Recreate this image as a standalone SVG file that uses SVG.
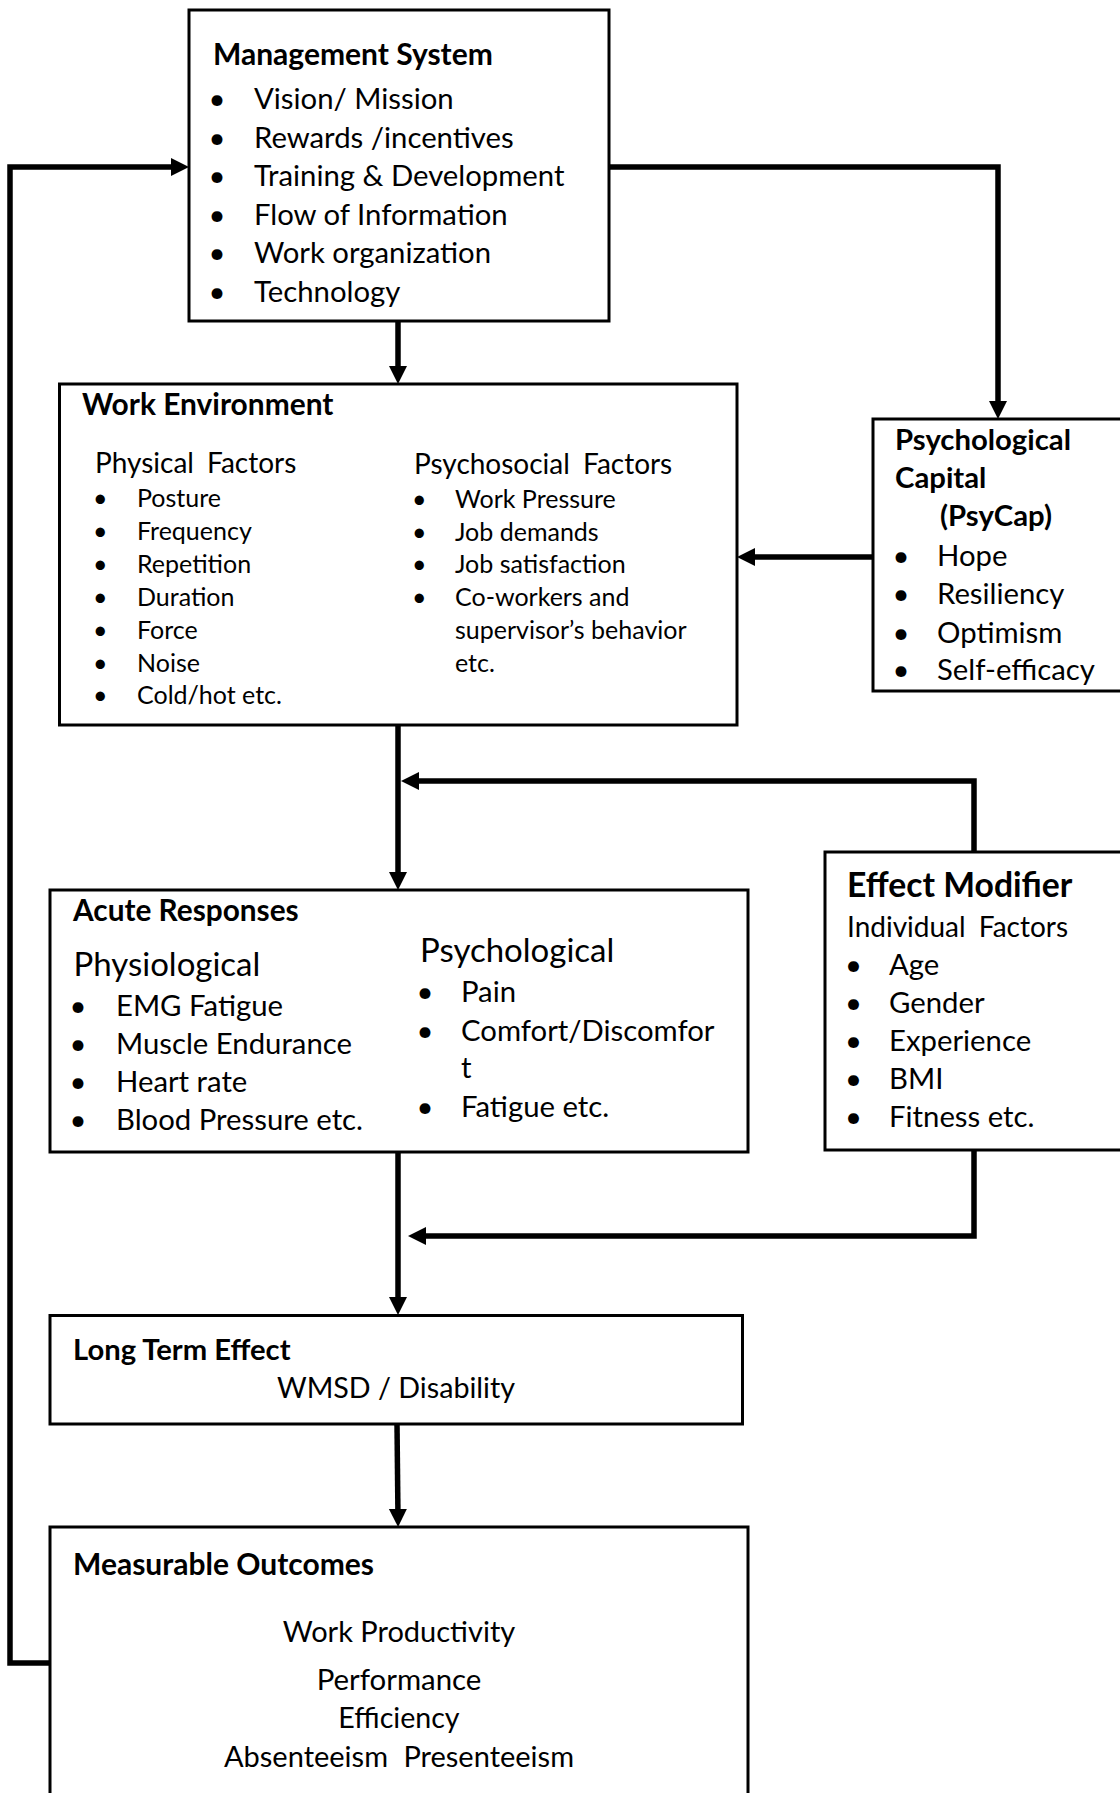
<svg xmlns="http://www.w3.org/2000/svg" width="1120" height="1793" viewBox="0 0 1120 1793">
<style>
text{font-family:Lato,"Liberation Sans",sans-serif;fill:#000}
.b{font-weight:bold}
.box{fill:#fff;stroke:#000;stroke-width:3}
.con{fill:none;stroke:#000;stroke-width:5.5;stroke-linejoin:miter}
.s29{font-size:29.3px}
.s25{font-size:25px}
.s28{font-size:28px}
.s33{font-size:33px}
.ws{word-spacing:6px}
.mid{text-anchor:middle}
</style>
<defs>
<marker id="ah" markerUnits="userSpaceOnUse" markerWidth="20" markerHeight="20" refX="10" refY="9" orient="auto">
<path d="M0,0 L18,9 L0,18 z" fill="#000"/>
</marker>
</defs>
<rect width="1120" height="1793" fill="#fff"/>

<g id="connectors">
<path class="con" d="M50,1663 H10 V167 H181" marker-end="url(#ah)"/>
<path class="con" d="M609,167 H998 V411" marker-end="url(#ah)"/>
<path class="con" d="M398,321 V376" marker-end="url(#ah)"/>
<path class="con" d="M873,557 H745" marker-end="url(#ah)"/>
<path class="con" d="M398,725 V882" marker-end="url(#ah)"/>
<path class="con" d="M974,852 V781 H409" marker-end="url(#ah)"/>
<path class="con" d="M398,1152 V1307" marker-end="url(#ah)"/>
<path class="con" d="M974,1150 V1236 H416" marker-end="url(#ah)"/>
<path class="con" d="M397,1424 L398,1519" marker-end="url(#ah)"/>
</g>

<g id="management-system">
<rect class="box" x="189" y="10" width="420" height="311"/>
<text class="b" style="font-size:30px" x="213" y="65">Management System</text>
<g class="s29">
<text x="208.5" y="109">•</text><text x="254" y="109">Vision/ Mission</text>
<text x="208.5" y="148">•</text><text x="254" y="148">Rewards /incentives</text>
<text x="208.5" y="186">•</text><text x="254" y="186">Training &amp; Development</text>
<text x="208.5" y="225">•</text><text x="254" y="225">Flow of Information</text>
<text x="208.5" y="263">•</text><text x="254" y="263">Work organization</text>
<text x="208.5" y="302">•</text><text x="254" y="302">Technology</text>
</g>
</g>

<g id="work-environment">
<rect class="box" x="59.5" y="384" width="677.5" height="341"/>
<text class="b" style="font-size:29.9px" x="82" y="415">Work Environment</text>
<text class="s28 ws" x="95" y="473">Physical Factors</text>
<g class="s25">
<text x="93" y="507">•</text><text x="137" y="507">Posture</text>
<text x="93" y="540">•</text><text x="137" y="540">Frequency</text>
<text x="93" y="573">•</text><text x="137" y="573">Repetition</text>
<text x="93" y="606">•</text><text x="137" y="606">Duration</text>
<text x="93" y="639">•</text><text x="137" y="639">Force</text>
<text x="93" y="672">•</text><text x="137" y="672">Noise</text>
<text x="93" y="704">•</text><text x="137" y="704">Cold/hot etc.</text>
</g>
<text class="s28 ws" x="414" y="474">Psychosocial Factors</text>
<g class="s25">
<text x="412" y="508">•</text><text x="455" y="508">Work Pressure</text>
<text x="412" y="541">•</text><text x="455" y="541">Job demands</text>
<text x="412" y="573">•</text><text x="455" y="573">Job satisfaction</text>
<text x="412" y="606">•</text><text x="455" y="606">Co-workers and</text>
<text x="455" y="639">supervisor’s behavior</text>
<text x="455" y="672">etc.</text>
</g>
</g>

<g id="psychological-capital">
<rect class="box" x="873" y="419" width="260" height="272"/>
<text class="b s29" x="895" y="450">Psychological</text>
<text class="b s29" x="895" y="488">Capital</text>
<text class="b s29" x="940" y="526">(PsyCap)</text>
<g class="s29">
<text x="892.5" y="566">•</text><text x="937" y="566">Hope</text>
<text x="892.5" y="604">•</text><text x="937" y="604">Resiliency</text>
<text x="892.5" y="643">•</text><text x="937" y="643">Optimism</text>
<text x="892.5" y="680">•</text><text x="937" y="680">Self-efficacy</text>
</g>
</g>

<g id="acute-responses">
<rect class="box" x="50" y="890" width="698" height="262"/>
<text class="b" style="font-size:29.8px" x="73" y="921">Acute Responses</text>
<text class="s33" x="73.5" y="976">Physiological</text>
<g class="s29">
<text x="69.5" y="1016">•</text><text x="116" y="1016">EMG Fatigue</text>
<text x="69.5" y="1054">•</text><text x="116" y="1054">Muscle Endurance</text>
<text x="69.5" y="1092">•</text><text x="116" y="1092">Heart rate</text>
<text x="69.5" y="1130">•</text><text x="116" y="1130">Blood Pressure etc.</text>
</g>
<text class="s33" x="420" y="962">Psychological</text>
<g class="s29">
<text x="416.5" y="1002">•</text><text x="461" y="1002">Pain</text>
<text x="416.5" y="1041">•</text><text x="461" y="1041">Comfort/Discomfor</text>
<text x="461" y="1078">t</text>
<text x="416.5" y="1117">•</text><text x="461" y="1117">Fatigue etc.</text>
</g>
</g>

<g id="effect-modifier">
<rect class="box" x="825" y="852" width="300" height="298"/>
<text class="b" style="font-size:33.7px" x="847" y="897">Effect Modifier</text>
<text class="s28 ws" x="847" y="937">Individual Factors</text>
<g class="s29">
<text x="845" y="975">•</text><text x="889" y="975">Age</text>
<text x="845" y="1013">•</text><text x="889" y="1013">Gender</text>
<text x="845" y="1051">•</text><text x="889" y="1051">Experience</text>
<text x="845" y="1089">•</text><text x="889" y="1089">BMI</text>
<text x="845" y="1127">•</text><text x="889" y="1127">Fitness etc.</text>
</g>
</g>

<g id="long-term-effect">
<rect class="box" x="50" y="1315.5" width="692.5" height="108.5"/>
<text class="b" style="font-size:29.2px" x="73" y="1360">Long Term Effect</text>
<text class="mid" style="font-size:28.7px" x="396" y="1398">WMSD / Disability</text>
</g>

<g id="measurable-outcomes">
<rect class="box" x="50" y="1527" width="698" height="300"/>
<text class="b" style="font-size:30px" x="73" y="1575">Measurable Outcomes</text>
<text class="mid" style="font-size:29px" x="399" y="1642">Work Productivity</text>
<text class="mid" style="font-size:29.4px" x="399" y="1690">Performance</text>
<text class="mid" style="font-size:28.6px" x="399" y="1728">Efficiency</text>
<text class="mid" style="font-size:29px;word-spacing:8px" x="399" y="1767">Absenteeism Presenteeism</text>
</g>
</svg>
